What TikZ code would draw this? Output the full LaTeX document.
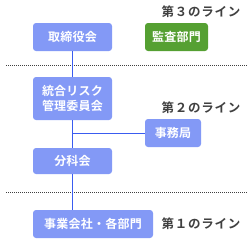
\documentclass[tikz,border=0pt]{standalone}
\usepackage{fontspec}
\setmainfont{Noto Sans CJK JP}[BoldFont={Noto Sans CJK JP Bold}]
\newfontfamily\labelfont{Noto Sans CJK JP Bold}[LetterSpace=6]
\newfontfamily\boxfont{Noto Sans CJK JP Bold}[LetterSpace=2]
\usepackage{xcolor}
\usetikzlibrary{positioning}
\definecolor{boxblue}{HTML}{8399F6}
\definecolor{auditgreen}{HTML}{55A032}
\definecolor{linkblue}{HTML}{3A5CF0}
\tikzset{
    unit/.style={draw=none, fill=boxblue, rounded corners=3pt, text=white, font=\fontsize{12}{15.5}\selectfont\boxfont, minimum width=79pt, minimum height=28pt, inner sep=0pt, align=center},
    line label/.style={text=black!75, font=\fontsize{12.5}{14}\selectfont\labelfont, inner sep=0pt},
    link/.style={draw=linkblue, line width=1pt},
    border/.style={draw=black!75, line width=1pt, dash pattern=on 1pt off 1pt}
}

\begin{document}
\begin{tikzpicture}[x=1pt, y=-1pt]
    \useasboundingbox (0,0) rectangle (252,242);

    % Boxes
    \node[unit] (board) at (72.5,37) {取締役会};
    \node[unit, fill=auditgreen, minimum width=63pt] (audit) at (176.5,37) {監査部門};
    \node[unit, minimum height=43pt] (risk) at (72.5,98.5) {統合リスク\\管理委員会};
    \node[unit, minimum width=56pt] (office) at (173,133) {事務局};
    \node[unit, minimum height=26pt] (section) at (72.5,161) {分科会};
    \node[unit, minimum width=120pt] (company) at (93,224) {事業会社・各部門};

    % Lines
    \node[line label] (third) at (201,12) {第３のライン};
    \node[line label] (second) at (201,108) {第２のライン};
    \node[line label] (first) at (201,224) {第１のライン};

    \draw[border] (6,65.5) -- (247,65.5);
    \draw[border] (6,192) -- (247,192);

    % Connectors
    \draw[link] (board) -- (risk);
    \draw[link] (risk) -- (section);
    \draw[link] (risk.south |- office) -- (office.west);
    \draw[link] (section.south) -- (section.south |- company.north);

\end{tikzpicture}
\end{document}
